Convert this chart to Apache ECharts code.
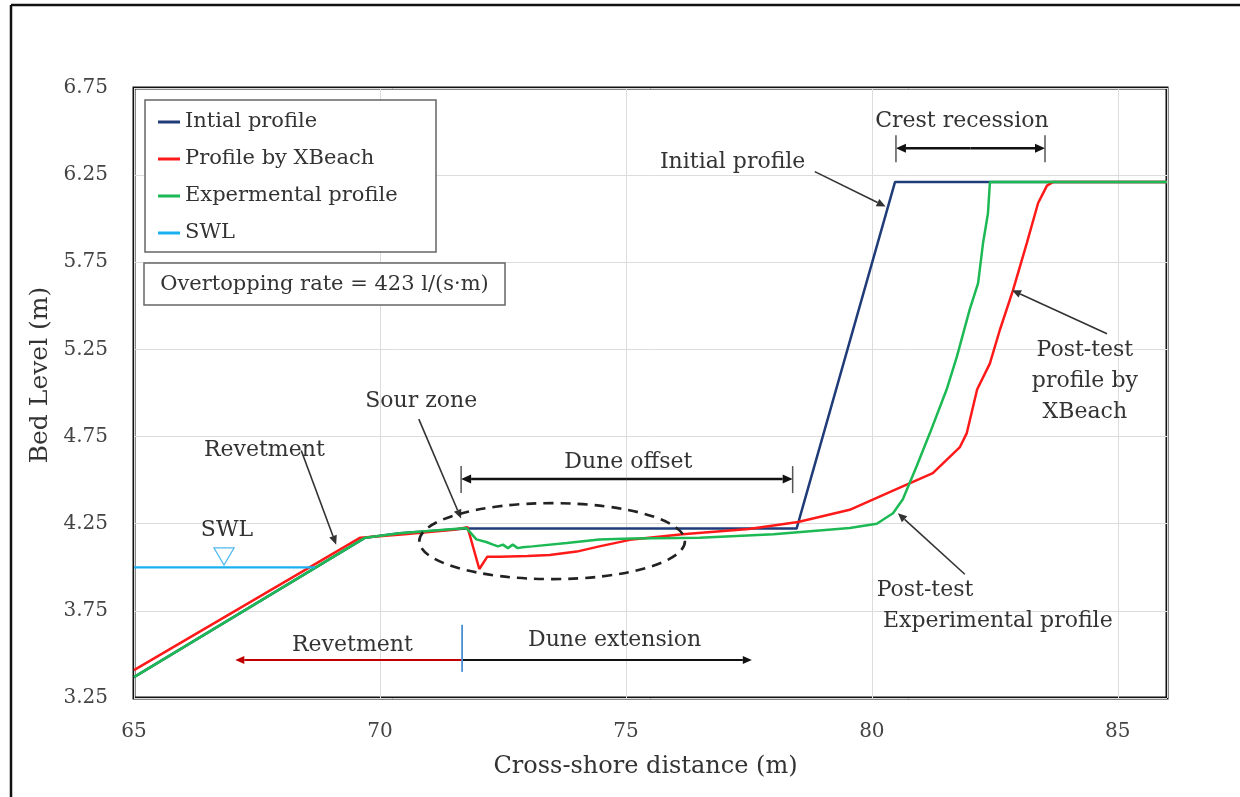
<!DOCTYPE html>
<html><head><meta charset="utf-8">
<script src="https://cdn.jsdelivr.net/npm/echarts@6/dist/echarts.min.js"></script>
<style>html,body{margin:0;padding:0;background:#fff}#c{width:1240px;height:797px}</style>
</head><body><div id="c"></div>
<script>
// ---------- data ----------
const seriesNames = ['Intial profile', 'Profile by XBeach', 'Expermental profile', 'SWL'];
const xTicks = [65, 70, 75, 80, 85];
const yTicks = [3.25, 3.75, 4.25, 4.75, 5.25, 5.75, 6.25, 6.75];

const initialProfile = [
  [65, 3.37], [69.7, 4.17], [70.4, 4.195], [71.76, 4.222], [78.47, 4.222], [80.47, 6.21], [86, 6.21]
];
const xbeachProfile = [
  [65, 3.41], [69.6, 4.17], [70.5, 4.19], [71.5, 4.215], [71.78, 4.23], [72.02, 3.99],
  [72.18, 4.06], [72.43, 4.06], [73.0, 4.065], [73.45, 4.07], [74.0, 4.09], [74.46, 4.12],
  [75.13, 4.16], [76.15, 4.19], [77.5, 4.22], [78.5, 4.26], [79.55, 4.33], [80.43, 4.44],
  [81.24, 4.54], [81.79, 4.69], [81.93, 4.77], [82.14, 5.02], [82.40, 5.17], [82.60, 5.36],
  [82.87, 5.59], [83.15, 5.86], [83.38, 6.09], [83.56, 6.19], [83.68, 6.21], [86, 6.21]
];
const experimentalProfile = [
  [65, 3.37], [69.7, 4.17], [70.4, 4.195], [71.76, 4.225], [71.96, 4.16], [72.16, 4.145],
  [72.3, 4.13], [72.4, 4.12], [72.5, 4.13], [72.6, 4.11], [72.7, 4.13], [72.8, 4.11],
  [72.9, 4.115], [73.1, 4.12], [73.8, 4.14], [74.46, 4.16], [75.13, 4.165], [76.5, 4.17],
  [78, 4.19], [79.55, 4.225], [80.1, 4.25], [80.43, 4.31], [80.63, 4.39], [80.91, 4.58],
  [81.18, 4.77], [81.52, 5.02], [81.73, 5.21], [81.99, 5.48], [82.16, 5.63], [82.26, 5.86],
  [82.36, 6.03], [82.40, 6.21], [86, 6.21]
];
const swl = [[65, 4.0], [68.68, 4.0]];

// annotation texts (data coordinates of text centre)
const annoTexts = [
  { t: 'Crest recession', at: [81.83, 6.56] },
  { t: 'Initial profile', at: [77.17, 6.325] },
  { t: 'Post-test\nprofile by\nXBeach', at: [84.33, 5.07] },
  { t: 'Post-test', at: [81.08, 3.87] },
  { t: 'Experimental profile', at: [82.56, 3.69] },
  { t: 'Sour zone', at: [70.84, 4.95] },
  { t: 'Dune offset', at: [75.05, 4.60] },
  { t: 'Revetment', at: [67.65, 4.67] },
  { t: 'SWL', at: [66.89, 4.21] },
  { t: 'Revetment', at: [69.44, 3.55] },
  { t: 'Dune extension', at: [74.77, 3.58] }
];
// arrows: from -> to (head at "to")
const annoArrows = [
  { from: [78.84, 6.27], to: [80.28, 6.07], c: '#333' },
  { from: [84.78, 5.34], to: [82.85, 5.59], c: '#333' },
  { from: [81.89, 3.96], to: [80.53, 4.31], c: '#333' },
  { from: [70.79, 4.85], to: [71.65, 4.28], c: '#333' },
  { from: [68.40, 4.67], to: [69.11, 4.13], c: '#333' },
  { from: [71.67, 3.468], to: [67.06, 3.468], c: '#c00000' },
  { from: [71.67, 3.468], to: [77.56, 3.468], c: '#111' }
];
const dimArrows = [
  { x0: 80.49, x1: 83.52, y: 6.405 },
  { x0: 71.65, x1: 78.39, y: 4.506 }
];

const FONT = '"DejaVu Serif", "Liberation Serif", serif';
const chart = echarts.init(document.getElementById('c'), null, { renderer: 'canvas' });

const lineStyle = (c, w) => ({ color: c, width: w });
chart.setOption({
  animation: false,
  backgroundColor: '#fff',
  grid: { left: 134, right: 73, top: 88, bottom: 99, show: true, borderColor: '#111', borderWidth: 3, backgroundColor: 'transparent' },
  xAxis: {
    type: 'value', min: 65, max: 86, interval: 5,
    name: 'Cross-shore distance (m)', nameLocation: 'middle', nameGap: 57,
    nameTextStyle: { fontFamily: FONT, fontSize: 24, color: '#333', padding: [0, 10, 0, 0] },
    axisLine: { show: false }, axisTick: { show: false },
    axisLabel: { fontFamily: FONT, fontSize: 20, color: '#444', margin: 24,
      formatter: v => xTicks.includes(v) ? String(v) : '' },
    splitLine: { show: true, lineStyle: { color: '#dcdcdc', width: 1 } }
  },
  yAxis: {
    type: 'value', min: 3.25, max: 6.75, interval: 0.5,
    name: 'Bed Level (m)', nameLocation: 'middle', nameGap: 80,
    nameTextStyle: { fontFamily: FONT, fontSize: 25, color: '#333', padding: [0, 0, 0, 36] },
    axisLine: { show: false }, axisTick: { show: false },
    axisLabel: { fontFamily: FONT, fontSize: 20, color: '#444', margin: 26,
      formatter: v => yTicks.some(t => Math.abs(t - v) < 1e-6) ? v.toFixed(2) : '' },
    splitLine: { show: true, lineStyle: { color: '#dcdcdc', width: 1 } }
  },
  legend: {
    orient: 'vertical', left: 158, top: 111, z: 20,
    data: seriesNames, icon: 'rect', itemWidth: 22, itemHeight: 3, itemGap: 15,
    padding: 0,
    textStyle: { fontFamily: FONT, fontSize: 21, color: '#333', lineHeight: 22 }
  },
  series: [
    { name: seriesNames[0], type: 'line', data: initialProfile, showSymbol: false, symbol: 'none', lineStyle: lineStyle('#203c78', 2.5), itemStyle: { color: '#203c78' }, z: 2 },
    { name: seriesNames[1], type: 'line', data: xbeachProfile, showSymbol: false, symbol: 'none', lineStyle: lineStyle('#ff1a1a', 2.5), itemStyle: { color: '#ff1a1a' }, z: 3 },
    { name: seriesNames[2], type: 'line', data: experimentalProfile, showSymbol: false, symbol: 'none', lineStyle: lineStyle('#1db954', 2.5), itemStyle: { color: '#1db954' }, z: 4 },
    { name: seriesNames[3], type: 'line', data: swl, showSymbol: false, symbol: 'none', lineStyle: lineStyle('#1ab0f0', 2.2), itemStyle: { color: '#1ab0f0' }, z: 5 }
  ]
});

const P = pt => chart.convertToPixel({ xAxisIndex: 0, yAxisIndex: 0 }, pt);
const g = [];
// outer border
g.push({ type: 'line', shape: { x1: 11, y1: 5, x2: 1240, y2: 5 }, style: { stroke: '#111', lineWidth: 2.5 } });
g.push({ type: 'line', shape: { x1: 11, y1: 5, x2: 11, y2: 797 }, style: { stroke: '#111', lineWidth: 2.5 } });
// legend box
g.push({ type: 'rect', z: 5, shape: { x: 145, y: 100, width: 291, height: 152 }, style: { fill: '#fff', stroke: '#666', lineWidth: 1.5 } });
// overtopping box
g.push({ type: 'rect', z: 5, shape: { x: 144, y: 263, width: 361, height: 42 }, style: { fill: '#fff', stroke: '#666', lineWidth: 1.5 } });
g.push({ type: 'text', z: 6, x: 324.5, y: 285, style: { text: 'Overtopping rate = 423 l/(s·m)', fontFamily: FONT, fontSize: 21, fill: '#333', align: 'center', verticalAlign: 'middle' } });

function arrow(a, b, color, lw, hl, hw) {
  const dx = b[0] - a[0], dy = b[1] - a[1];
  const L = Math.sqrt(dx * dx + dy * dy), ux = dx / L, uy = dy / L;
  const bx = b[0] - ux * hl, by = b[1] - uy * hl;
  g.push({ type: 'line', z: 8, shape: { x1: a[0], y1: a[1], x2: bx, y2: by }, style: { stroke: color, lineWidth: lw } });
  g.push({ type: 'polygon', z: 8, shape: { points: [[b[0], b[1]], [bx - uy * hw, by + ux * hw], [bx + uy * hw, by - ux * hw]] }, style: { fill: color } });
}
annoArrows.forEach(a => arrow(P(a.from), P(a.to), a.c, a.c === '#333' ? 1.6 : 2.2, 9, 4));
dimArrows.forEach(d => {
  const p0 = P([d.x0, d.y]), p1 = P([d.x1, d.y]);
  const mid = [(p0[0] + p1[0]) / 2, p0[1]];
  arrow(mid, p0, '#111', 2.5, 10, 4.5);
  arrow(mid, p1, '#111', 2.5, 10, 4.5);
  [p0, p1].forEach(p => g.push({ type: 'line', z: 8, shape: { x1: p[0], y1: p[1] - 13, x2: p[0], y2: p[1] + 14 }, style: { stroke: '#555', lineWidth: 1.5 } }));
});
// blue divider tick on bottom arrows
{ const a = P([71.67, 3.40]), b = P([71.67, 3.67]);
  g.push({ type: 'line', z: 9, shape: { x1: a[0], y1: a[1], x2: b[0], y2: b[1] }, style: { stroke: '#4a90d9', lineWidth: 1.8 } }); }
// scour ellipse
{ const c = P([73.5, 4.15]), e = P([76.2, 4.368]);
  g.push({ type: 'ellipse', z: 8, shape: { cx: c[0], cy: c[1], rx: e[0] - c[0], ry: c[1] - e[1] }, style: { fill: null, stroke: '#222', lineWidth: 2.6, lineDash: [10, 7] } }); }
// SWL triangle
{ const c = P([66.83, 4.065]);
  g.push({ type: 'polygon', z: 8, shape: { points: [[c[0] - 10, c[1] - 8], [c[0] + 10, c[1] - 8], [c[0], c[1] + 9]] }, style: { fill: '#fff', stroke: '#4fb8ee', lineWidth: 1.3 } }); }
// texts
annoTexts.forEach(a => {
  const p = P(a.at);
  g.push({ type: 'text', z: 10, x: p[0], y: p[1], style: { text: a.t, fontFamily: FONT, fontSize: 22, lineHeight: 31, fill: '#333', align: 'center', verticalAlign: 'middle' } });
});
chart.setOption({ graphic: { elements: g } });
</script></body></html>
